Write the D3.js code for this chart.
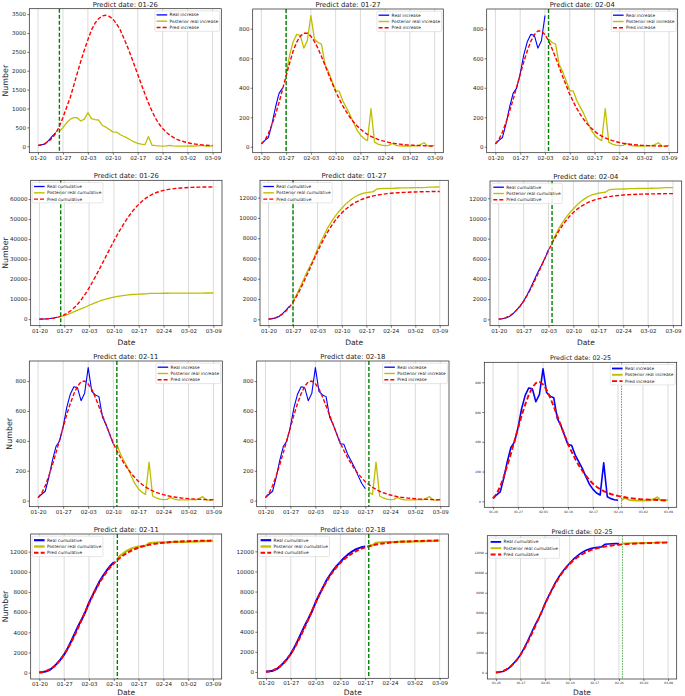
<!DOCTYPE html>
<html><head><meta charset="utf-8">
<script src="https://cdn.jsdelivr.net/npm/d3@7"></script>
<style>body{margin:0;background:#fff}svg{display:block;font-family:"DejaVu Sans",sans-serif}</style>
</head><body><svg id="c" width="685" height="696"></svg>
<script>
const dates = ["01-20","01-21","01-22","01-23","01-24","01-25","01-26","01-27","01-28","01-29","01-30","01-31",
"02-01","02-02","02-03","02-04","02-05","02-06","02-07","02-08","02-09","02-10","02-11","02-12","02-13","02-14","02-15","02-16","02-17","02-18","02-19","02-20","02-21","02-22","02-23","02-24","02-25","02-26","02-27","02-28","02-29",
"03-01","03-02","03-03","03-04","03-05","03-06","03-07","03-08","03-09"];
const xTickLabels = ["01-20","01-27","02-03","02-10","02-17","02-24","03-02","03-09"];
const predictDates = ["01-26","01-27","02-04","02-11","02-18","02-25"];

const realIncrease = [20,43,63,155,268,362,398,495,622,712,762,756,669,719,890,731,707,696,558,509,444,381,377,312,267,221,166,115,80,56,42,258,31,18,11,7,9,22,10,6,5,6,5,8,6,15,27,6,4,10];

const predIncrease0126 = [20,40,75,130,220,350,530,760,1030,1280,1600,1930,2250,2550,2820,3080,3260,3380,3450,3470,3440,3370,3250,3100,2880,2660,2420,2160,1900,1640,1390,1150,930,740,590,470,370,295,235,185,150,120,95,75,60,48,38,30,24,20];
const predIncrease0127 = [20,45,90,150,220,300,390,480,570,650,710,750,770,770,750,715,668,612,552,492,432,376,325,279,238,202,170,143,120,100,84,70,59,50,42,36,30,25,21,18,15,13,11,10,9,8,7,6,5,5];
const predIncrease0204 = [20,50,100,165,240,320,405,490,575,650,715,760,785,785,760,720,665,605,540,475,415,355,305,258,218,183,153,127,105,87,72,60,50,42,35,29,24,20,17,14,12,10,9,8,7,6,5,5,4,4];
const predIncrease0211 = [20,50,100,165,240,320,405,490,575,650,715,765,795,800,780,745,690,630,570,505,445,385,335,290,250,215,183,155,130,110,92,77,65,55,47,40,34,29,25,21,18,16,14,12,10,9,8,7,6,5];
const predIncrease0218 = [20,50,100,165,240,320,405,490,575,650,715,765,795,800,782,748,694,634,572,507,446,386,335,289,248,212,180,152,127,107,90,75,63,53,45,38,32,27,23,20,17,15,13,11,10,9,8,7,6,5];
const predIncrease0225 = [20,50,100,165,240,320,405,490,575,650,715,765,795,802,785,750,697,637,575,510,448,385,333,285,243,205,172,143,118,98,82,69,58,49,42,36,31,27,23,20,17,15,13,12,11,10,9,8,7,6];

const yTicksInc0126 = [0,500,1000,1500,2000,2500,3000,3500];
const yTicksInc = [0,200,400,600,800];
const yTicksCum0126 = [0,10000,20000,30000,40000,50000,60000];
const yTicksCum = [0,2000,4000,6000,8000,10000,12000];

const legendInc = ["Real increase","Posterior real increase","Pred increase"];
const legendCum = ["Real cumulative","Posterior real cumulative","Pred cumulative"];

const realCumulative = Array.from(d3.cumsum(realIncrease));
const cum = a => Array.from(d3.cumsum(a));

const svg = d3.select("#c");
const C = {blue:"#0000ff", yellow:"#bfbf00", red:"#ff0000", green:"#008000"};

const normal = {tick:5.5, title:6.8, lw:1.1, rw:1.4, dash:"4,2", gw:1.4, gdash:"4,2", gcol:C.green};
const thick = {tick:5.5, title:6.8, lw:2.0, rw:2.0, dash:"4.5,2.2", gw:1.4, gdash:"4,2", gcol:C.green};
const small = {tick:3.0, title:6.4, lw:1.6, rw:1.9, dash:"5,2.5", gw:0.8, gdash:"1.6,1", gcol:"#2e9a2e"};

const panels = [
 {f:[29.3,8.7,221.3,152.7], kind:"inc", pd:predictDates[0], pred:predIncrease0126, yt:yTicksInc0126, leg:"ur", ylab:[5.5], st:normal},
 {f:[252.7,9,443.3,152.7], kind:"inc", pd:predictDates[1], pred:predIncrease0127, yt:yTicksInc, leg:"ur", st:normal},
 {f:[486.7,9,677.7,152.7], kind:"inc", pd:predictDates[2], pred:predIncrease0204, yt:yTicksInc, leg:"ur", st:normal},
 {f:[30.7,180.3,222,325.7], kind:"cum", pd:predictDates[0], pred:cum(predIncrease0126), yt:yTicksCum0126, leg:"ul", ylab:[5.5], xlab:345, st:normal},
 {f:[260,180.3,448.3,325.7], kind:"cum", pd:predictDates[1], pred:cum(predIncrease0127), yt:yTicksCum, leg:"ul", xlab:345, st:normal},
 {f:[490,181,681.7,325.7], kind:"cum", pd:predictDates[2], pred:cum(predIncrease0204), yt:yTicksCum, leg:"ul", xlab:345, st:normal},
 {f:[29.3,361,222.3,506.7], kind:"inc", pd:predictDates[3], pred:predIncrease0211, yt:yTicksInc, leg:"ur", ylab:[9], st:normal},
 {f:[256.7,361,449,506.7], kind:"inc", pd:predictDates[4], pred:predIncrease0218, yt:yTicksInc, leg:"ur", st:normal},
 {f:[484.3,362.3,676.7,507.3], kind:"inc", pd:predictDates[5], pred:predIncrease0225, yt:yTicksInc, leg:"ur", st:small},
 {f:[30.7,534,221.7,679], kind:"cum", pd:predictDates[3], pred:cum(predIncrease0211), yt:yTicksCum, leg:"ul", ylab:[5.5], xlab:694.5, st:thick},
 {f:[257.3,534,448.3,678.3], kind:"cum", pd:predictDates[4], pred:cum(predIncrease0218), yt:yTicksCum, leg:"ul", xlab:694.5, st:thick},
 {f:[487.3,535.7,676.7,679], kind:"cum", pd:predictDates[5], pred:cum(predIncrease0225), yt:yTicksCum, leg:"ul", xlab:694.5, st:small}
];

panels.forEach(drawPanel);

function drawPanel(cfg){
  const [l,t,r,b] = cfg.f, st = cfg.st;
  const g = svg.append("g");
  const x = d3.scalePoint().domain(dates).range([l,r]).padding(2.45);
  const p = dates.indexOf(cfg.pd);
  const real = cfg.kind==="inc" ? realIncrease : realCumulative;
  const pred = cfg.pred;
  const idx = d3.range(dates.length);
  const blueIdx = idx.filter(i=>i<p), yelIdx = idx.filter(i=>i>=p);
  const vals = real.concat(pred);
  const [mn,mx] = d3.extent(vals);
  const pad = (mx-mn)*0.05;
  const y = d3.scaleLinear().domain([mn-pad,mx+pad]).range([b,t]);

  g.append("g").selectAll("line").data(xTickLabels).join("line")
    .attr("x1",d=>x(d)).attr("x2",d=>x(d)).attr("y1",t).attr("y2",b)
    .attr("stroke","#d6d6d6").attr("stroke-width",0.9);

  const line = arr => d3.line().x(i=>x(dates[i])).y(i=>y(arr[i]));
  g.append("path").attr("d",line(real)(blueIdx)).attr("fill","none").attr("stroke",C.blue).attr("stroke-width",st.lw).attr("stroke-linejoin","round");
  g.append("path").attr("d",line(real)(yelIdx)).attr("fill","none").attr("stroke",C.yellow).attr("stroke-width",st.lw+0.2).attr("stroke-linejoin","round");
  g.append("path").attr("d",line(pred)(idx)).attr("fill","none").attr("stroke",C.red).attr("stroke-width",st.rw).attr("stroke-dasharray",st.dash);
  g.append("line").attr("x1",x(cfg.pd)).attr("x2",x(cfg.pd)).attr("y1",t).attr("y2",b)
    .attr("stroke",st.gcol).attr("stroke-width",st.gw).attr("stroke-dasharray",st.gdash);

  g.append("rect").attr("x",l).attr("y",t).attr("width",r-l).attr("height",b-t)
    .attr("fill","none").attr("stroke","#222").attr("stroke-width",0.7);

  const ax = g.append("g").attr("transform",`translate(0,${b})`)
    .call(d3.axisBottom(x).tickValues(xTickLabels).tickSize(2).tickPadding(1.2));
  const ay = g.append("g").attr("transform",`translate(${l},0)`)
    .call(d3.axisLeft(y).tickValues(cfg.yt).tickSize(2).tickPadding(1.3).tickFormat(d3.format("d")));
  [ax,ay].forEach(a=>{
    a.select(".domain").remove();
    a.selectAll("line").attr("stroke","#222").attr("stroke-width",0.6);
    a.selectAll("text").attr("font-size",st.tick).attr("fill","#222").attr("font-family","DejaVu Sans");
  });

  g.append("text").attr("x",(l+r)/2).attr("y",t-2.2).attr("text-anchor","middle")
    .attr("font-size",st.title).attr("fill","#222").text("Predict date: "+cfg.pd);
  if(cfg.ylab){
    const yc=(t+b)/2, xc=cfg.ylab[0];
    g.append("text").attr("transform",`translate(${xc+2.8},${yc}) rotate(-90)`).attr("text-anchor","middle")
      .attr("font-size",7.9).attr("fill","#222").text("Number");
  }
  if(cfg.xlab){
    g.append("text").attr("x",(l+r)/2).attr("y",cfg.xlab).attr("text-anchor","middle")
      .attr("font-size",7.5).attr("fill","#222").text("Date");
  }

  // legend
  const names = cfg.kind==="inc" ? legendInc : legendCum;
  const fs = 4.35;
  const lg = g.append("g");
  const texts = [];
  const tmp = lg.append("g");
  names.forEach(n=>texts.push(tmp.append("text").attr("font-size",fs).text(n)));
  const tw = d3.max(texts, s=>s.node().getComputedTextLength());
  tmp.remove();
  const bw = 1.7+10.6+2.4+tw+1.6, bh = 20.4;
  const bx = cfg.leg==="ur" ? r-1.6-bw : l+1.6;
  const by = t+2.2;
  lg.append("rect").attr("x",bx).attr("y",by).attr("width",bw).attr("height",bh).attr("rx",1.2)
    .attr("fill","#fff").attr("fill-opacity",0.85).attr("stroke","#cccccc").attr("stroke-width",0.5);
  const sty = [{c:C.blue,w:st.lw+0.2,d:null},{c:C.yellow,w:st.lw+0.3,d:null},{c:C.red,w:st.rw,d:st.dash}];
  names.forEach((n,k)=>{
    const yy = by+4+k*6.3;
    const ln = lg.append("line").attr("x1",bx+1.7).attr("x2",bx+12.3).attr("y1",yy).attr("y2",yy)
      .attr("stroke",sty[k].c).attr("stroke-width",sty[k].w);
    if(sty[k].d) ln.attr("stroke-dasharray",sty[k].d);
    lg.append("text").attr("x",bx+14.7).attr("y",yy+1.55).attr("font-size",fs).attr("fill","#222").text(n);
  });
}
</script>
</body></html>
